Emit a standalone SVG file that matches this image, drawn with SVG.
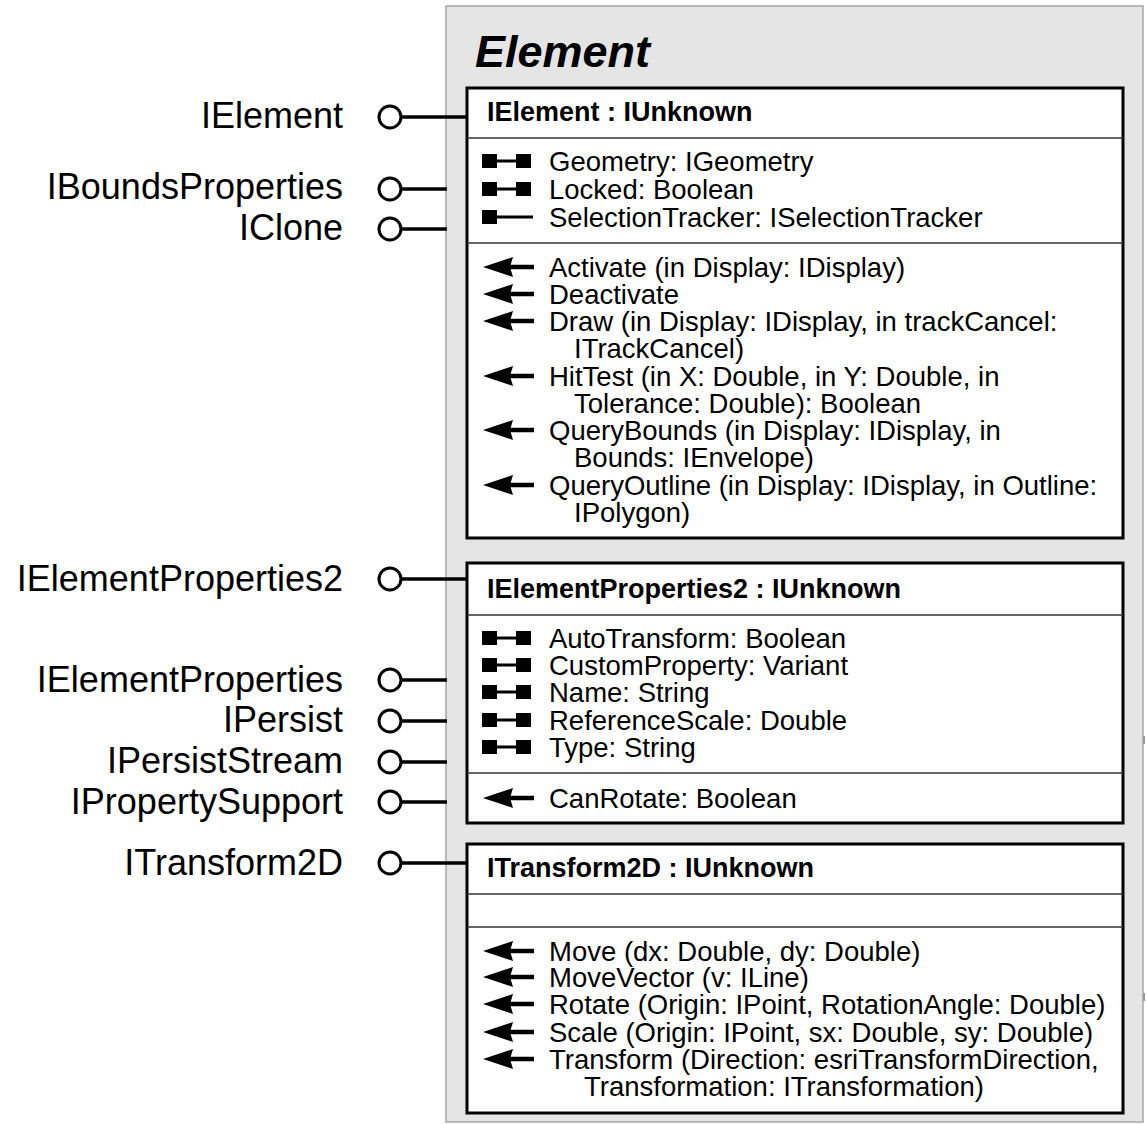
<svg xmlns="http://www.w3.org/2000/svg" width="1146" height="1124" viewBox="0 0 1146 1124">
  <style>
    .lbl { font-family: "Liberation Sans", Arial, sans-serif; font-size: 36px; fill: #000; text-anchor: end; }
    .title { font-family: "Liberation Sans", Arial, sans-serif; font-size: 45px; font-weight: bold; font-style: italic; fill: #000; }
    .hdr { font-family: "Liberation Sans", Arial, sans-serif; font-size: 27px; font-weight: bold; fill: #000; }
    .mem { font-family: "Liberation Sans", Arial, sans-serif; font-size: 27.5px; fill: #000; }
    .box { fill: #fff; stroke: #000; stroke-width: 3; }
    .sep { stroke: #333; stroke-width: 1.5; }
    .conn { stroke: #000; stroke-width: 3.5; fill: none; }
    .pin { fill: #fff; stroke: #000; stroke-width: 3; }
  </style>
  <defs>
    <!-- read/write property -->
    <g id="rw">
      <rect x="0" y="-7" width="15" height="14" fill="#000"/>
      <rect x="14" y="-1.5" width="21" height="3" fill="#000"/>
      <rect x="34" y="-7" width="15" height="14" fill="#000"/>
    </g>
    <!-- read-only property -->
    <g id="ro">
      <rect x="0" y="-7" width="15" height="14" fill="#000"/>
      <rect x="14" y="-1.5" width="37" height="3" fill="#000"/>
    </g>
    <!-- method -->
    <g id="meth">
      <polygon points="0,0 30,-10 27,0 30,10" fill="#000"/>
      <rect x="26" y="-2.25" width="25" height="4.5" fill="#000"/>
    </g>
  </defs>

  <!-- class frame -->
  <g id="element-class">
    <rect x="446" y="6" width="697" height="1116" fill="#e5e5e5" stroke="#a6a6a6" stroke-width="1.5"/>
    <text class="title" x="475" y="67">Element</text>
    <rect x="1143" y="736" width="2" height="8" fill="#999"/>
    <rect x="1143" y="993" width="2" height="8" fill="#999"/>
  </g>

  <!-- connectors -->
  <g id="connectors">
    <line class="conn" x1="401" y1="117" x2="467" y2="117"/>
    <line class="conn" x1="401" y1="189" x2="447" y2="189"/>
    <line class="conn" x1="401" y1="229" x2="447" y2="229"/>
    <line class="conn" x1="401" y1="579" x2="467" y2="579"/>
    <line class="conn" x1="401" y1="680" x2="447" y2="680"/>
    <line class="conn" x1="401" y1="721" x2="447" y2="721"/>
    <line class="conn" x1="401" y1="762" x2="447" y2="762"/>
    <line class="conn" x1="401" y1="802" x2="447" y2="802"/>
    <line class="conn" x1="401" y1="863" x2="467" y2="863"/>
  </g>

  <!-- interface lollipops -->
  <g id="pin-IElement"><circle class="pin" cx="390" cy="117" r="11"/><text class="lbl" x="343" y="128">IElement</text></g>
  <g id="pin-IBoundsProperties"><circle class="pin" cx="390" cy="189" r="11"/><text class="lbl" x="343" y="199">IBoundsProperties</text></g>
  <g id="pin-IClone"><circle class="pin" cx="390" cy="229" r="11"/><text class="lbl" x="343" y="240">IClone</text></g>
  <g id="pin-IElementProperties2"><circle class="pin" cx="390" cy="579" r="11"/><text class="lbl" x="343" y="591">IElementProperties2</text></g>
  <g id="pin-IElementProperties"><circle class="pin" cx="390" cy="680" r="11"/><text class="lbl" x="343" y="692">IElementProperties</text></g>
  <g id="pin-IPersist"><circle class="pin" cx="390" cy="721" r="11"/><text class="lbl" x="343" y="732">IPersist</text></g>
  <g id="pin-IPersistStream"><circle class="pin" cx="390" cy="762" r="11"/><text class="lbl" x="343" y="773">IPersistStream</text></g>
  <g id="pin-IPropertySupport"><circle class="pin" cx="390" cy="802" r="11"/><text class="lbl" x="343" y="814">IPropertySupport</text></g>
  <g id="pin-ITransform2D"><circle class="pin" cx="390" cy="863" r="11"/><text class="lbl" x="343" y="875">ITransform2D</text></g>

  <!-- IElement interface -->
  <g id="iface-IElement">
    <rect class="box" x="467" y="88" width="656" height="450"/>
    <line class="sep" x1="467" y1="138" x2="1123" y2="138"/>
    <line class="sep" x1="467" y1="243" x2="1123" y2="243"/>
    <text class="hdr" x="487" y="121">IElement : IUnknown</text>
    <use href="#rw" x="482" y="161"/>
    <use href="#rw" x="482" y="189"/>
    <use href="#ro" x="482" y="217"/>
    <text class="mem" x="549" y="171">Geometry: IGeometry</text>
    <text class="mem" x="549" y="199">Locked: Boolean</text>
    <text class="mem" x="549" y="227">SelectionTracker: ISelectionTracker</text>
    <use href="#meth" x="483" y="267"/>
    <use href="#meth" x="483" y="294"/>
    <use href="#meth" x="483" y="321"/>
    <use href="#meth" x="483" y="376"/>
    <use href="#meth" x="483" y="430"/>
    <use href="#meth" x="483" y="485"/>
    <text class="mem" x="549" y="277">Activate (in Display: IDisplay)</text>
    <text class="mem" x="549" y="304">Deactivate</text>
    <text class="mem" x="549" y="331">Draw (in Display: IDisplay, in trackCancel:</text>
    <text class="mem" x="574" y="358">ITrackCancel)</text>
    <text class="mem" x="549" y="386">HitTest (in X: Double, in Y: Double, in</text>
    <text class="mem" x="574" y="413">Tolerance: Double): Boolean</text>
    <text class="mem" x="549" y="440">QueryBounds (in Display: IDisplay, in</text>
    <text class="mem" x="574" y="467">Bounds: IEnvelope)</text>
    <text class="mem" x="549" y="495">QueryOutline (in Display: IDisplay, in Outline:</text>
    <text class="mem" x="574" y="522">IPolygon)</text>
  </g>

  <!-- IElementProperties2 interface -->
  <g id="iface-IElementProperties2">
    <rect class="box" x="467" y="563" width="656" height="260"/>
    <line class="sep" x1="467" y1="615" x2="1123" y2="615"/>
    <line class="sep" x1="467" y1="773" x2="1123" y2="773"/>
    <text class="hdr" x="487" y="598">IElementProperties2 : IUnknown</text>
    <use href="#rw" x="482" y="638"/>
    <use href="#rw" x="482" y="665"/>
    <use href="#rw" x="482" y="692"/>
    <use href="#rw" x="482" y="720"/>
    <use href="#rw" x="482" y="747"/>
    <text class="mem" x="549" y="648">AutoTransform: Boolean</text>
    <text class="mem" x="549" y="675">CustomProperty: Variant</text>
    <text class="mem" x="549" y="702">Name: String</text>
    <text class="mem" x="549" y="730">ReferenceScale: Double</text>
    <text class="mem" x="549" y="757">Type: String</text>
    <use href="#meth" x="483" y="798"/>
    <text class="mem" x="549" y="808">CanRotate: Boolean</text>
  </g>

  <!-- ITransform2D interface -->
  <g id="iface-ITransform2D">
    <rect class="box" x="467" y="844" width="656" height="269"/>
    <line class="sep" x1="467" y1="894" x2="1123" y2="894"/>
    <line class="sep" x1="467" y1="927" x2="1123" y2="927"/>
    <text class="hdr" x="487" y="877">ITransform2D : IUnknown</text>
    <use href="#meth" x="483" y="951"/>
    <use href="#meth" x="483" y="977"/>
    <use href="#meth" x="483" y="1004"/>
    <use href="#meth" x="483" y="1032"/>
    <use href="#meth" x="483" y="1059"/>
    <text class="mem" x="549" y="961">Move (dx: Double, dy: Double)</text>
    <text class="mem" x="549" y="987">MoveVector (v: ILine)</text>
    <text class="mem" x="549" y="1014">Rotate (Origin: IPoint, RotationAngle: Double)</text>
    <text class="mem" x="549" y="1042">Scale (Origin: IPoint, sx: Double, sy: Double)</text>
    <text class="mem" x="549" y="1069">Transform (Direction: esriTransformDirection,</text>
    <text class="mem" x="584" y="1096">Transformation: ITransformation)</text>
  </g>
</svg>
